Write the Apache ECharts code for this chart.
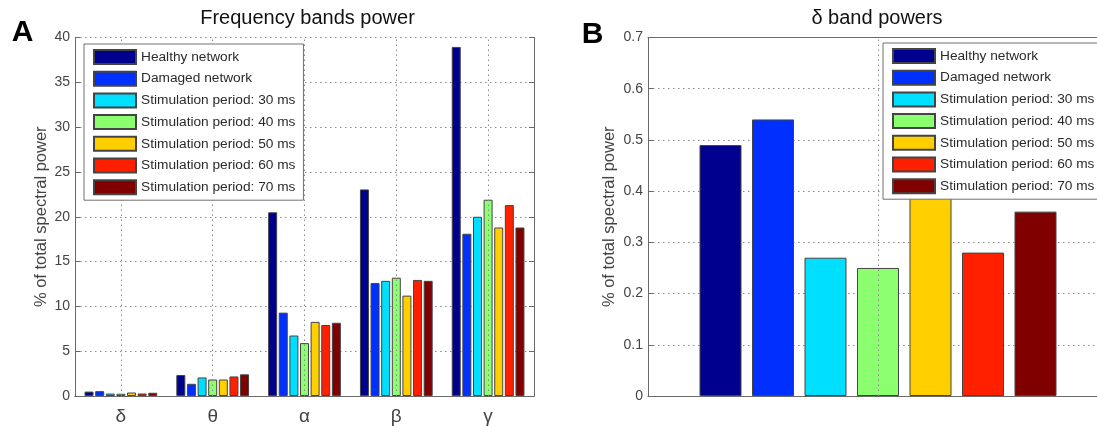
<!DOCTYPE html>
<html>
<head>
<meta charset="utf-8">
<script src="https://cdn.jsdelivr.net/npm/echarts@6/dist/echarts.min.js"></script>
<style>
html,body{margin:0;padding:0;background:#fff;overflow:hidden;width:1097px;height:427px;}
#chart{width:1120px;height:427px;}
</style>
</head>
<body>
<div id="chart"></div>
<script>
// ---- data ----
const bandCategories = ['δ', 'θ', 'α', 'β', 'γ'];
const seriesNames = ['Healthy network', 'Damaged network', 'Stimulation period: 30 ms',
  'Stimulation period: 40 ms', 'Stimulation period: 50 ms', 'Stimulation period: 60 ms',
  'Stimulation period: 70 ms'];
const healthy = [0.49, 2.34, 20.5, 23.05, 38.95];
const damaged = [0.54, 1.36, 9.3, 12.6, 18.1];
const stim30 = [0.27, 2.07, 6.75, 12.85, 20.0];
const stim40 = [0.25, 1.84, 5.9, 13.2, 21.9];
const stim50 = [0.39, 1.84, 8.27, 11.2, 18.8];
const stim60 = [0.28, 2.18, 7.92, 12.95, 21.3];
const stim70 = [0.36, 2.42, 8.17, 12.85, 18.8];
const deltaCategory = ['δ'];
const deltaPowers = [0.49, 0.54, 0.27, 0.25, 0.39, 0.28, 0.36];
const titleA = 'Frequency bands power';
const titleB = 'δ band powers';
const yLabel = '% of total spectral power';

// ---- styling ----
const colors = ['#00008F', '#0030FF', '#00DFFF', '#8CFF70', '#FFCF00', '#FF2000', '#800000'];
const bandSeries = [healthy, damaged, stim30, stim40, stim50, stim60, stim70];
const FONT = '"Liberation Sans", Arial, sans-serif';
const axisColor = '#6a6a6a';
const gridLine = { show: true, lineStyle: { color: '#8a8a8a', width: 1, type: [1.5, 3.5] } };

const chart = echarts.init(document.getElementById('chart'), null, { renderer: 'canvas' });

function mkLegend(left, top) {
  return {
    orient: 'vertical', left: left, top: top,
    data: seriesNames, icon: 'rect',
    itemWidth: 42, itemHeight: 14, itemGap: 5.7,
    padding: [5, 8, 5, 9],
    borderColor: '#707070', borderWidth: 1, backgroundColor: '#fff',
    selectedMode: false, z: 10,
    textStyle: { fontFamily: FONT, fontSize: 13.7, color: '#2a2a2a', lineHeight: 14 }
  };
}

const grids = [
  { left: 75, top: 37.5, width: 459, height: 358.5 },
  { left: 648, top: 37.5, width: 460, height: 358.5 }
];

const xAxes = [
  { type: 'category', gridIndex: 0, data: bandCategories, position: 'bottom',
    axisLine: { lineStyle: { color: axisColor } },
    axisTick: { inside: true, alignWithLabel: true, length: 5, lineStyle: { color: axisColor } },
    axisLabel: { fontFamily: FONT, fontSize: 19, color: '#444', margin: 11 },
    splitLine: { show: false } },
  { type: 'category', gridIndex: 0, data: bandCategories, position: 'top',
    axisLine: { lineStyle: { color: axisColor } },
    axisTick: { inside: true, alignWithLabel: true, length: 5, lineStyle: { color: axisColor } },
    axisLabel: { show: false }, splitLine: { show: false } },
  { type: 'category', gridIndex: 1, data: deltaCategory, position: 'bottom',
    axisLine: { lineStyle: { color: axisColor } },
    axisTick: { inside: true, alignWithLabel: true, length: 5, lineStyle: { color: axisColor } },
    axisLabel: { show: false }, splitLine: { show: false } },
  { type: 'category', gridIndex: 1, data: deltaCategory, position: 'top',
    axisLine: { lineStyle: { color: axisColor } },
    axisTick: { inside: true, alignWithLabel: true, length: 5, lineStyle: { color: axisColor } },
    axisLabel: { show: false }, splitLine: { show: false } }
];

const yAxes = [
  { type: 'value', gridIndex: 0, min: 0, max: 40, interval: 5, position: 'left',
    name: yLabel, nameLocation: 'middle', nameGap: 25,
    nameTextStyle: { fontFamily: FONT, fontSize: 16.5, color: '#444' },
    axisLine: { show: true, lineStyle: { color: axisColor } },
    axisTick: { show: true, inside: true, length: 5, lineStyle: { color: axisColor } },
    axisLabel: { fontFamily: FONT, fontSize: 14, color: '#444', margin: 5 },
    splitLine: gridLine },
  { type: 'value', gridIndex: 0, min: 0, max: 40, interval: 5, position: 'right',
    axisLine: { show: true, lineStyle: { color: axisColor } },
    axisTick: { show: true, inside: true, length: 5, lineStyle: { color: axisColor } },
    axisLabel: { show: false }, splitLine: { show: false } },
  { type: 'value', gridIndex: 1, min: 0, max: 0.7, interval: 0.1, position: 'left',
    name: yLabel, nameLocation: 'middle', nameGap: 30,
    nameTextStyle: { fontFamily: FONT, fontSize: 16.5, color: '#444' },
    axisLine: { show: true, lineStyle: { color: axisColor } },
    axisTick: { show: true, inside: true, length: 5, lineStyle: { color: axisColor } },
    axisLabel: { fontFamily: FONT, fontSize: 14, color: '#444', margin: 5 },
    splitLine: gridLine }
];

const series = [];
// vertical dotted grid lines at category centres (behind bars)
series.push({
  type: 'line', xAxisIndex: 0, yAxisIndex: 0, data: [], z: 1, silent: true,
  markLine: { silent: true, symbol: ['none', 'none'], label: { show: false },
    lineStyle: gridLine.lineStyle, animation: false,
    data: bandCategories.map(c => ({ xAxis: c })) }
});
series.push({
  type: 'line', xAxisIndex: 2, yAxisIndex: 2, data: [], z: 1, silent: true,
  markLine: { silent: true, symbol: ['none', 'none'], label: { show: false },
    lineStyle: gridLine.lineStyle, animation: false,
    data: deltaCategory.map(c => ({ xAxis: c })) }
});
seriesNames.forEach((name, i) => {
  series.push({
    name: name, type: 'bar', xAxisIndex: 0, yAxisIndex: 0, z: 2,
    data: bandSeries[i], barWidth: 9, barGap: '18%',
    itemStyle: { color: colors[i], borderColor: '#444', borderWidth: 1 }
  });
});
seriesNames.forEach((name, i) => {
  series.push({
    name: name, type: 'bar', xAxisIndex: 2, yAxisIndex: 2, z: 2,
    data: [deltaPowers[i]], barWidth: 42, barGap: '25%',
    itemStyle: { color: colors[i], borderColor: '#444', borderWidth: 1 }
  });
});

function txt(s, x, y, size, weight, color) {
  return { type: 'text', x: x, y: y, z: 20, silent: true,
    style: { text: s, font: weight + ' ' + size + 'px ' + FONT, fill: color,
      textAlign: 'center', textVerticalAlign: 'middle', align: 'center', verticalAlign: 'middle' } };
}

chart.setOption({
  animation: false,
  backgroundColor: '#fff',
  grid: grids,
  xAxis: xAxes,
  yAxis: yAxes,
  legend: [mkLegend(84, 44), mkLegend(883, 43)],
  series: series,
  graphic: [
    txt(titleA, 307.5, 18.5, 20, 'normal', '#111'),
    txt(titleB, 877, 18.5, 20, 'normal', '#111'),
    txt('A', 22.5, 33, 30, 'bold', '#000'),
    txt('B', 592.5, 35, 30, 'bold', '#000')
  ]
});
</script>
</body>
</html>
